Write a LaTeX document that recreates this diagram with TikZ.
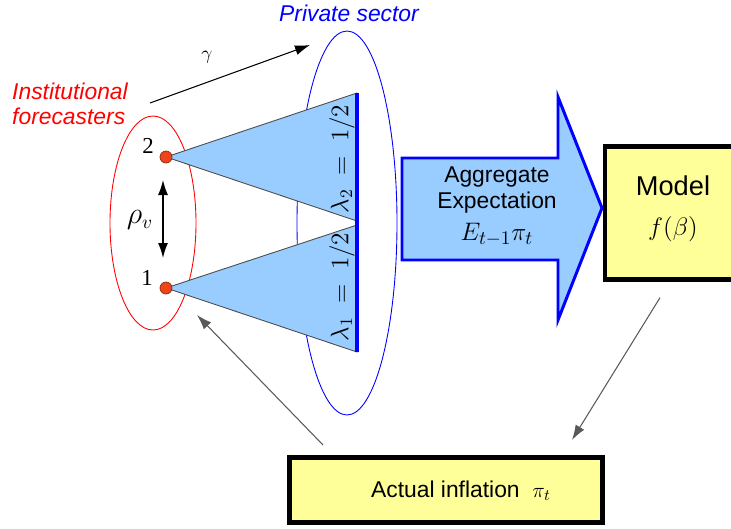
\documentclass[tikz,border=0pt]{standalone}
\usepackage{fontspec}
\setsansfont{Liberation Sans}
\newfontfamily\numfont{Liberation Serif}
\usetikzlibrary{arrows.meta,calc,positioning}
\definecolor{privblue}{rgb}{0,0,1}
\definecolor{instred}{rgb}{1,0,0}
\definecolor{skyfill}{rgb}{0.6,0.8,1.0}
\definecolor{boxyellow}{rgb}{1,1,0.6}
\definecolor{dotred}{rgb}{0.93,0.27,0.1}
\definecolor{linegray}{gray}{0.35}
\tikzset{
  txt/.style={font=\sffamily\fontsize{13}{14.5}\selectfont},
  itxt/.style={font=\sffamily\itshape\fontsize{13}{14.5}\selectfont},
  mth/.style={font=\fontsize{15}{17}\selectfont},
  fdot/.style={circle,fill=dotred,draw=dotred!60!black,line width=0.4pt,inner sep=0pt,minimum size=0.24cm},
  ybox/.style={draw,fill=boxyellow,inner sep=0pt}
}

\begin{document}
\begin{tikzpicture}[x=0.02cm,y=-0.02cm,>={Latex[length=3mm,width=2mm]}]
  \useasboundingbox (0,0) rectangle (731,528);
  % groups
  \draw[instred,line width=0.5pt] (153,223) ellipse [x radius=43,y radius=107];
  \draw[privblue,line width=0.5pt] (347,223) ellipse [x radius=50,y radius=192];
  \node[itxt,instred,align=left,anchor=west] (inst) at (6,104) {Institutional\\forecasters};
  \node[itxt,privblue] (priv) at (349,13) {Private sector};
  % forecasters and their shares
  \coordinate (p2) at (166,157);
  \coordinate (p1) at (166,288);
  \foreach \p/\a/\b in {p2/93/221,p1/225/352}{
    \draw[fill=skyfill,draw=black!70,line width=0.5pt] (\p) -- (357,\a) -- (357,\b) -- cycle;
  }
  \draw[privblue,line width=2.8pt] (357,93) -- (357,352);
  \node[fdot] (f2) at (p2) {};
  \node[fdot] (f1) at (p1) {};
  \node[font=\numfont\fontsize{13}{15}\selectfont] (n2) at (148,146) {2};
  \node[font=\numfont\fontsize{13}{15}\selectfont] (n1) at (147,278) {1};
  \node[font=\fontsize{14}{16}\selectfont,rotate=90] (lam2) at (342,159) {$\lambda_2\;=\;1/2$};
  \node[font=\fontsize{14}{16}\selectfont,rotate=90] (lam1) at (342,287) {$\lambda_1\;=\;1/2$};
  % correlation and gamma
  \draw[<->,line width=0.8pt] ($(f2)+(-3,23)$) -- ($(f1)+(-3,-30)$);
  \node[font=\fontsize{16}{18}\selectfont] (rho) at (140,220) {$\rho_v$};
  \coordinate (g0) at (150,103);
  \coordinate (g1) at (310,45);
  \draw[->,line width=0.6pt] (g0) -- (g1);
  \node[font=\fontsize{11}{13}\selectfont] (gam) at (207,57) {$\gamma$};
  % aggregate expectation
  \draw[privblue,line width=1.7pt,fill=skyfill,line join=miter]
    (402,158) -- (558,158) -- (558,97) -- (602,208) -- (558,320) -- (558,260) -- (402,260) -- cycle;
  \node[txt,align=center] (agg) at (497,190) {Aggregate\\Expectation};
  \node[mth] (aggm) at (497,235) {$E_{t-1}\pi_t$};
  % model and inflation
  \node[ybox,line width=2.3pt,minimum width=2.6cm,minimum height=2.66cm] (model) at (670,213) {};
  \node[font=\sffamily\fontsize{15.5}{17}\selectfont] (mlbl) at (673,186) {Model};
  \node[mth] (mf) at (673,229) {$f(\beta)$};
  \node[ybox,line width=2.8pt,minimum width=6.26cm,minimum height=1.3cm] (actual) at (446,490) {};
  \node[txt] (albl) at (461,491) {Actual inflation\ \ $\pi_t$};
  \coordinate (m2a) at (572,440);
  \draw[->,linegray,line width=0.6pt,shorten <=0.38cm] (model.south) -- (m2a);
  \coordinate (a0) at (323,445);
  \coordinate (a2f) at (197,315);
  \draw[->,linegray,line width=0.6pt] (a0) -- (a2f);
\end{tikzpicture}
\end{document}
